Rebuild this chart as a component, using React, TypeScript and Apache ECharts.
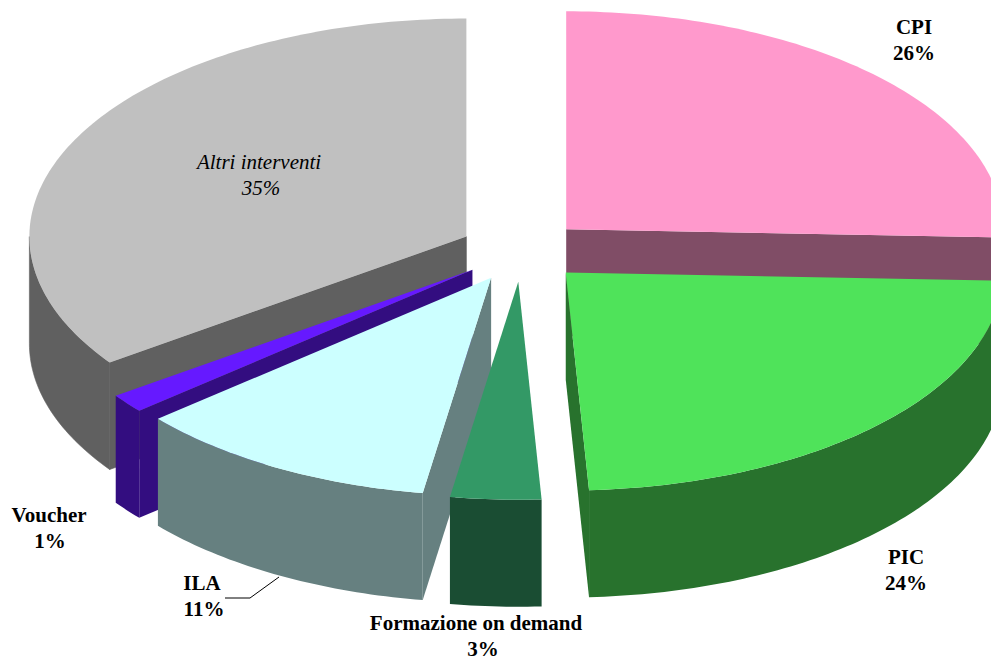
import React, { useEffect, useRef } from "react";
import * as echarts from "echarts";

const categories = ["Altri interventi", "Voucher", "ILA", "CPI", "PIC", "Formazione on demand"];
const shares = [34.8, 1.4, 11.3, 25.6, 23.55, 3.35];
// clockwise order of the slices around the pie, starting at 12 o'clock
const clockwiseOrder = ["CPI", "PIC", "Formazione on demand", "ILA", "Voucher", "Altri interventi"];

const topColors = ["#C0C0C0", "#6619FF", "#CCFFFF", "#FF99CC", "#4FE35A", "#339966"];
const sideColors = ["#606060", "#330D80", "#668080", "#804D66", "#28722D", "#1A4D33"];
const nameAnchors = [[259, 162], [49, 515], [202, 583], [914, 27], [906, 557], [476, 623]];
const percentAnchors = [[261, 188], [50, 541], [204, 609], [914, 53], [906, 583], [483, 649]];

const CX = 521.5;
const CY = 250.8;
const RX = 437;
const RY = 218;
const EXPLODE = 0.142;
const DEPTH = 107;
const FONT = '"Liberation Serif", "Times New Roman", serif';

function spans() {
  const total = shares.reduce((a, b) => a + b, 0);
  const map: Record<string, [number, number]> = {};
  let acc = 0;
  clockwiseOrder.forEach((name) => {
    const v = shares[categories.indexOf(name)];
    const a = echarts.number.linearMap(acc, [0, total], [0, Math.PI * 2], false);
    const b = echarts.number.linearMap(acc + v, [0, total], [0, Math.PI * 2], false);
    map[name] = [a, b];
    acc += v;
  });
  return map;
}
const sliceSpans = spans();

function renderSlice(params: any, api: any) {
  const i = params.dataIndex;
  const name = categories[i];
  const [a1, a2] = sliceSpans[name];
  const mid = (a1 + a2) / 2;
  const ox = CX + EXPLODE * RX * Math.sin(mid);
  const oy = CY - EXPLODE * RY * Math.cos(mid);
  const pt = (a: number, dz = 0) => [ox + RX * Math.sin(a), oy - RY * Math.cos(a) + dz];
  const apex = [ox, oy];
  const apexLow = [ox, oy + DEPTH];
  const steps = Math.max(2, Math.ceil(((a2 - a1) * 180) / Math.PI));
  const arc: number[][] = [];
  for (let s = 0; s <= steps; s++) arc.push(pt(a1 + ((a2 - a1) * s) / steps));

  // the grey slice shows no seam between its cut face and its wall
  const side: any = i === 0
    ? { fill: sideColors[i], stroke: sideColors[i], lineWidth: 0.6 }
    : { fill: sideColors[i] };
  const children: any[] = [];
  const radial = (a: number) => ({
    type: "polygon",
    shape: { points: [apex, pt(a), pt(a, DEPTH), apexLow] },
    style: side,
  });
  if (Math.sin(a1) < -1e-6) children.push(radial(a1));
  if (Math.sin(a2) > 1e-6) children.push(radial(a2));

  const w1 = Math.max(a1, Math.PI / 2);
  const w2 = Math.min(a2, (Math.PI * 3) / 2);
  if (w2 > w1) {
    const n = Math.max(2, Math.ceil(((w2 - w1) * 180) / Math.PI));
    const up: number[][] = [];
    const low: number[][] = [];
    for (let s = 0; s <= n; s++) {
      const a = w1 + ((w2 - w1) * s) / n;
      up.push(pt(a));
      low.unshift(pt(a, DEPTH));
    }
    children.push({ type: "polygon", shape: { points: up.concat(low) }, style: side });
  }
  children.push({
    type: "polygon",
    shape: { points: [apex, ...arc] },
    style: { fill: topColors[i] },
  });
  return { type: "group", children };
}

function renderLabel(params: any, api: any) {
  const i = params.dataIndex;
  const font = `${i === 0 ? "italic" : "bold"} 21px ${FONT}`;
  const line = (text: string, at: number[]) => ({
    type: "text",
    x: at[0],
    y: at[1],
    style: { text, fill: "#000", font, lineHeight: 14, align: "center", verticalAlign: "middle" },
  });
  return {
    type: "group",
    children: [
      line(categories[i], nameAnchors[i]),
      line(`${Math.round(api.value(0))}%`, percentAnchors[i]),
    ],
  };
}

export default function App() {
  const ref = useRef<HTMLDivElement>(null);
  useEffect(() => {
    document.body.style.margin = "0";
    document.body.style.overflow = "hidden";
    const chart = echarts.init(ref.current!, undefined, { renderer: "svg" });
    chart.setOption({
      animation: false,
      backgroundColor: "#fff",
      series: [
        { type: "custom", coordinateSystem: "none", data: shares.map((v) => [v]), renderItem: renderSlice, silent: true, z: 1 },
        { type: "custom", coordinateSystem: "none", data: shares.map((v) => [v]), renderItem: renderLabel, silent: true, z: 3 },
      ],
      graphic: [
        {
          type: "polyline",
          z: 2,
          shape: { points: [[225, 598], [250, 598], [279, 577]] },
          style: { stroke: "#000", lineWidth: 1, fill: "none" },
        },
      ],
    });
    return () => chart.dispose();
  }, []);
  return <div ref={ref} style={{ width: 991, height: 656 }} />;
}
